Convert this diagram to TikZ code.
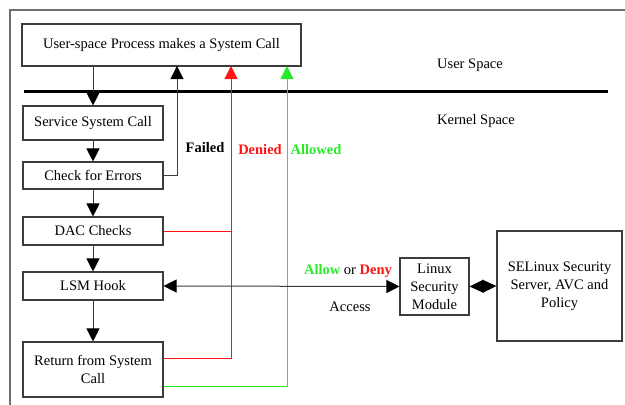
\documentclass[tikz,border=0pt]{standalone}
\usepackage{fontspec}
\setmainfont{Liberation Serif}
\usetikzlibrary{arrows.meta}
\definecolor{myred}{RGB}{255,20,20}
\definecolor{mygreen}{RGB}{40,235,40}
\definecolor{boxgray}{RGB}{60,60,60}
\definecolor{framegray}{RGB}{110,110,110}
\tikzset{
  box/.style={draw=boxgray, line width=1.1pt, inner sep=2pt, align=center, font=\fontsize{14.5}{18}\selectfont},
  lbl/.style={inner sep=0pt, font=\fontsize{14.5}{18}\selectfont},
  blbl/.style={inner sep=0pt, font=\fontsize{14.5}{18}\selectfont\bfseries},
  conn/.style={draw=boxgray, line width=1pt},
  arr/.style={conn, -{Triangle[length=13pt,width=13pt,color=#1]}},
  arr/.default=black,
  darr/.style={conn, {Triangle[length=13pt,width=13pt,color=black]}-{Triangle[length=13pt,width=13pt,color=black]}},
  dia/.style={conn, black, {Triangle[length=14pt,width=13pt]}-{Triangle[length=14pt,width=13pt]}},
}
\begin{document}
\begin{tikzpicture}[x=1pt,y=-1pt]
\useasboundingbox (0,0) rectangle (625,405);
\clip (0,0) rectangle (625,405);
\draw[framegray, line width=1.5pt] (10,10) rectangle (660,440);
\draw[black, line width=3pt] (24,91) -- (608,91);

\node[box, minimum width=279pt, minimum height=42pt] (user) at (161.5,45) {User-space Process makes a System Call};
\node[box, minimum width=140pt, minimum height=34pt] (serv) at (93,123) {Service System Call};
\node[box, minimum width=140pt, minimum height=27pt] (err) at (93,175.5) {Check for Errors};
\node[box, minimum width=140pt, minimum height=28pt] (dac) at (93,231) {DAC Checks};
\node[box, minimum width=140pt, minimum height=28pt] (lsm) at (93,286) {LSM Hook};
\node[box, minimum width=140pt, minimum height=55pt] (ret) at (93,369.5) {Return from System\\Call};
\node[box, minimum width=69pt, minimum height=57pt] (lsmod) at (434.5,286.5) {Linux\\Security\\Module};
\node[box, minimum width=125pt, minimum height=110pt] (se) at (559.5,286) {SELinux Security\\Server, AVC and\\Policy};

\node[lbl] (us) at (470,65) {User Space};
\node[lbl] (ks) at (476,121) {Kernel Space};
\node[blbl] (failed) at (205,148) {Failed};
\node[blbl, text=myred] (denied) at (260,150) {Denied};
\node[blbl, text=mygreen] (allowed) at (316,150) {Allowed};
\node[lbl] (aod) at (348,271) {\textbf{\textcolor{mygreen}{Allow}} or \textbf{\textcolor{myred}{Deny}}};
\node[lbl] (acc) at (350,307) {Access};

\coordinate (fx) at (177,66);
\coordinate (rx) at (231,66);
\coordinate (gx) at (287,66);

\draw[arr] (user.south -| serv.north) -- (serv.north);
\draw[arr] (serv.south) -- (err.north);
\draw[arr] (err.south) -- (dac.north);
\draw[arr] (dac.south) -- (lsm.north);
\draw[arr] (lsm.south) -- (ret.north);
\draw[arr] (err.east) -| (fx);
\draw[arr=myred, draw=myred] ([yshift=11.5pt]ret.east) -| (rx);
\draw[conn, draw=myred] (dac.east) -- (dac.east -| rx);
\draw[arr=mygreen, draw=mygreen] ([yshift=-16.5pt]ret.east) -| (gx);
\draw[darr] (lsm.east) -- (lsmod.west);
\draw[dia] (lsmod.east) -- (se.west);
\end{tikzpicture}
\end{document}
